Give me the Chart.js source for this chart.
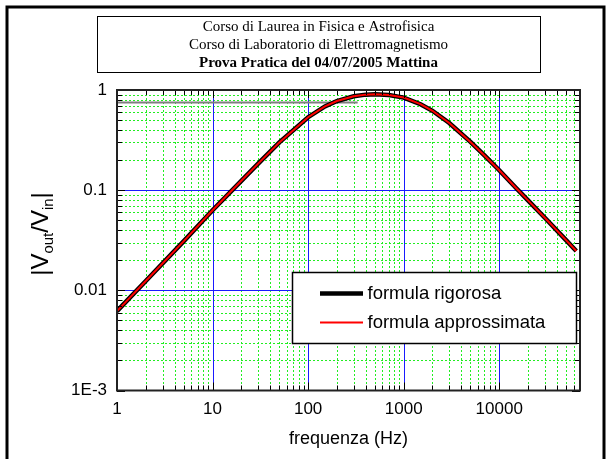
<!DOCTYPE html>
<html>
<head>
<meta charset="utf-8">
<script src="https://cdn.jsdelivr.net/npm/chart.js@4"></script>
<style>
html,body{margin:0;padding:0;background:#fff;}
canvas{display:block;}
</style>
</head>
<body>
<canvas id="c" width="611" height="459"></canvas>
<script>
// ---- data ----
const freqHz = [1, 2, 5, 10, 20, 30, 50, 100, 150, 200, 300, 400, 500, 700, 1000, 1500, 2000, 3000, 5000, 7000, 10000, 15000, 20000, 30000, 50000, 64000];
const rigorosa = [0.0062, 0.0124, 0.031, 0.063, 0.124, 0.184, 0.300, 0.535, 0.685, 0.776, 0.866, 0.899, 0.907, 0.892, 0.840, 0.722, 0.620, 0.468, 0.303, 0.222, 0.158, 0.105, 0.079, 0.053, 0.0317, 0.0247];
const approssimata = [0.0062, 0.0124, 0.031, 0.063, 0.124, 0.184, 0.300, 0.535, 0.685, 0.776, 0.866, 0.899, 0.907, 0.892, 0.840, 0.722, 0.620, 0.468, 0.303, 0.222, 0.158, 0.105, 0.079, 0.053, 0.0317, 0.0247];
const refLineX = [1, 330];
const refLineY = [0.75, 0.75];
const xTickValues = [1, 10, 100, 1000, 10000];
const xTickLabels = ['1', '10', '100', '1000', '10000'];
const yTickValues = [0.001, 0.01, 0.1, 1];
const yTickLabels = ['1E-3', '0.01', '0.1', '1'];
const seriesLabels = ['formula rigorosa', 'formula approssimata'];
const titleLines = ['Corso di Laurea in Fisica e Astrofisica', 'Corso di Laboratorio di Elettromagnetismo', 'Prova Pratica del 04/07/2005 Mattina'];
const xTitle = 'frequenza (Hz)';

const pts = (xs, ys) => xs.map((x, i) => ({x: x, y: ys[i]}));

function minorValues(min, max) {
  const out = [];
  for (let d = Math.floor(Math.log10(min)); d <= Math.ceil(Math.log10(max)); d++) {
    for (let k = 2; k <= 9; k++) {
      const v = k * Math.pow(10, d);
      if (v > min && v < max) out.push(v);
    }
  }
  return out;
}

const decorPlugin = {
  id: 'decor',
  beforeDraw(chart) {
    const ctx = chart.ctx;
    ctx.save();
    ctx.fillStyle = '#fff';
    ctx.fillRect(0, 0, chart.width, chart.height);
    // outer frame
    ctx.strokeStyle = '#000';
    ctx.lineWidth = 3;
    ctx.beginPath();
    ctx.moveTo(7, 470); ctx.lineTo(7, 7); ctx.lineTo(604, 7); ctx.lineTo(604, 470);
    ctx.stroke();
    // title box
    ctx.lineWidth = 1;
    ctx.strokeRect(97.5, 16.5, 443, 56);
    ctx.fillStyle = '#000';
    ctx.textAlign = 'center';
    ctx.textBaseline = 'middle';
    ctx.font = '15px "Liberation Serif", "Times New Roman", serif';
    ctx.fillText(titleLines[0], 318.5, 27.5);
    ctx.fillText(titleLines[1], 318.5, 45.5);
    ctx.font = 'bold 15px "Liberation Serif", "Times New Roman", serif';
    ctx.fillText(titleLines[2], 318.5, 63.5);
    ctx.restore();
  },
  beforeDatasetsDraw(chart) {
    const ctx = chart.ctx, a = chart.chartArea;
    const xs = chart.scales.x, ys = chart.scales.y;
    ctx.save();
    // minor grid (green dotted)
    ctx.strokeStyle = '#22ee22';
    ctx.lineWidth = 1;
    ctx.setLineDash([2, 2]);
    ctx.beginPath();
    minorValues(xs.min, xs.max).forEach(v => {
      const p = Math.round(xs.getPixelForValue(v)) + 0.5;
      ctx.moveTo(p, a.top); ctx.lineTo(p, a.bottom);
    });
    minorValues(ys.min, ys.max).forEach(v => {
      const p = Math.round(ys.getPixelForValue(v)) + 0.5;
      ctx.moveTo(a.left, p); ctx.lineTo(a.right, p);
    });
    ctx.stroke();
    // major grid (blue)
    ctx.setLineDash([]);
    ctx.strokeStyle = '#1a1aff';
    ctx.beginPath();
    xTickValues.forEach(v => {
      if (v <= xs.min || v >= xs.max) return;
      const p = Math.round(xs.getPixelForValue(v)) + 0.5;
      ctx.moveTo(p, a.top); ctx.lineTo(p, a.bottom);
    });
    yTickValues.forEach(v => {
      if (v <= ys.min || v >= ys.max) return;
      const p = Math.round(ys.getPixelForValue(v)) + 0.5;
      ctx.moveTo(a.left, p); ctx.lineTo(a.right, p);
    });
    ctx.stroke();
    ctx.restore();
  },
  afterDraw(chart) {
    const ctx = chart.ctx, a = chart.chartArea;
    const xs = chart.scales.x, ys = chart.scales.y;
    ctx.save();
    // inner tick marks on all four sides
    ctx.strokeStyle = '#000';
    ctx.lineWidth = 1;
    ctx.beginPath();
    const xmin = minorValues(xs.min, xs.max), ymin = minorValues(ys.min, ys.max);
    const tickX = (v, len) => {
      const p = Math.round(xs.getPixelForValue(v)) + 0.5;
      ctx.moveTo(p, a.bottom); ctx.lineTo(p, a.bottom - len);
      ctx.moveTo(p, a.top); ctx.lineTo(p, a.top + len);
    };
    const tickY = (v, len) => {
      const p = Math.round(ys.getPixelForValue(v)) + 0.5;
      ctx.moveTo(a.left, p); ctx.lineTo(a.left + len, p);
      ctx.moveTo(a.right, p); ctx.lineTo(a.right - len, p);
    };
    xmin.forEach(v => tickX(v, 5));
    xTickValues.forEach(v => tickX(v, 8));
    ymin.forEach(v => tickY(v, 5));
    yTickValues.forEach(v => tickY(v, 8));
    ctx.stroke();
    // plot border
    ctx.lineWidth = 2;
    ctx.strokeStyle = '#222';
    ctx.strokeRect(a.left, a.top, a.right - a.left, a.bottom - a.top);

    // legend box
    const lx = 292.5, ly = 272.5, lw = 284, lh = 71;
    ctx.fillStyle = '#fff';
    ctx.fillRect(lx, ly, lw, lh);
    ctx.lineWidth = 1.5;
    ctx.strokeStyle = '#000';
    ctx.strokeRect(lx, ly, lw, lh);
    ctx.font = '18.5px "Liberation Sans", Arial, sans-serif';
    ctx.textAlign = 'left';
    ctx.textBaseline = 'middle';
    const legendDs = chart.data.datasets.filter(d => d.inLegend);
    legendDs.forEach((d, i) => {
      const y = 293.5 + i * 29;
      ctx.strokeStyle = d.borderColor;
      ctx.lineWidth = d.borderWidth;
      ctx.beginPath(); ctx.moveTo(320, y); ctx.lineTo(363, y); ctx.stroke();
      ctx.fillStyle = '#000';
      ctx.fillText(d.label, 367.5, y);
    });

    // y axis title |Vout/Vin|
    const big = '24px "Liberation Sans", Arial, sans-serif';
    const small = '15px "Liberation Sans", Arial, sans-serif';
    const parts = [['|V', big, 0], ['out', small, 5], ['/V', big, 0], ['in', small, 5], ['|', big, 0]];
    let total = 0;
    parts.forEach(p => { ctx.font = p[1]; total += ctx.measureText(p[0]).width; });
    ctx.translate(48, 234);
    ctx.rotate(-Math.PI / 2);
    ctx.fillStyle = '#000';
    ctx.textAlign = 'left';
    ctx.textBaseline = 'alphabetic';
    let u = -total / 2;
    parts.forEach(p => {
      ctx.font = p[1];
      ctx.fillText(p[0], u, p[2]);
      u += ctx.measureText(p[0]).width;
    });
    ctx.restore();
  }
};

new Chart(document.getElementById('c'), {
  type: 'line',
  data: {
    datasets: [
      {label: 'ref', data: pts(refLineX, refLineY), borderColor: '#7f7f7f', borderWidth: 2, pointRadius: 0, order: 3, inLegend: false},
      {label: seriesLabels[0], data: pts(freqHz, rigorosa), borderColor: '#000000', borderWidth: 4.5, pointRadius: 0, tension: 0, order: 2, inLegend: true},
      {label: seriesLabels[1], data: pts(freqHz, approssimata), borderColor: '#ff0000', borderWidth: 2, pointRadius: 0, tension: 0, order: 1, inLegend: true}
    ]
  },
  options: {
    responsive: false,
    devicePixelRatio: 1,
    animation: false,
    layout: {padding: {left: 0, right: 31, top: 90, bottom: 0}},
    plugins: {legend: {display: false}, tooltip: {enabled: false}},
    scales: {
      x: {
        type: 'logarithmic', min: 1, max: 70000,
        grid: {display: false, drawTicks: false},
        border: {display: false},
        afterBuildTicks: s => { s.ticks = xTickValues.map(v => ({value: v})); },
        afterFit: s => { s.height = 68.5; },
        ticks: {
          autoSkip: false, maxRotation: 0, padding: 9, color: '#000',
          font: {family: '"Liberation Sans", Arial, sans-serif', size: 17},
          callback: (v, i) => xTickLabels[i]
        },
        title: {display: true, text: xTitle, color: '#000', padding: {top: 0, bottom: 9},
          font: {family: '"Liberation Sans", Arial, sans-serif', size: 18}}
      },
      y: {
        type: 'logarithmic', min: 0.001, max: 1,
        grid: {display: false, drawTicks: false},
        border: {display: false},
        afterBuildTicks: s => { s.ticks = yTickValues.map(v => ({value: v})); },
        afterFit: s => { s.width = 117; },
        ticks: {
          autoSkip: false, padding: 10, color: '#000',
          font: {family: '"Liberation Sans", Arial, sans-serif', size: 17},
          callback: (v, i) => yTickLabels[i]
        }
      }
    }
  },
  plugins: [decorPlugin]
});
</script>
</body>
</html>
